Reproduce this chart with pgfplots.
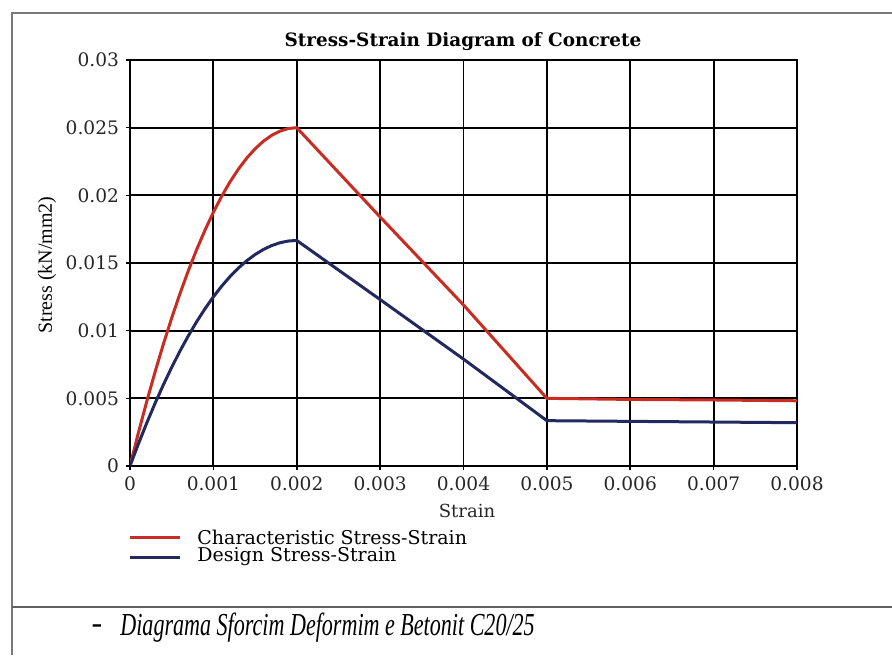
\documentclass[border=0pt]{standalone}
\usepackage{fontspec}
\setmainfont{DejaVu Serif}
\newfontfamily\timesf{Liberation Serif}
\usepackage{pgfplots}
\pgfplotsset{compat=1.18}
\definecolor{cred}{RGB}{200,45,35}
\definecolor{cnavy}{RGB}{35,40,95}
\definecolor{frameg}{RGB}{120,120,120}
\begin{document}
\begin{tikzpicture}
\useasboundingbox (0pt,0pt) rectangle (446pt,-327.5pt);
\draw[frameg, line width=1pt] (6pt,-327.5pt) -- (6pt,-6.5pt) -- (446pt,-6.5pt);
\draw[frameg!80!black, line width=1.1pt] (6pt,-303.5pt) -- (446pt,-303.5pt);
\begin{axis}[
  at={(65pt,-233pt)}, anchor=south west,
  width=333.5pt, height=203pt, scale only axis,
  xmin=0, xmax=0.008, ymin=0, ymax=0.03,
  xtick={0,0.001,...,0.008},
  ytick={0,0.005,0.01,0.015,0.02,0.025,0.03},
  scaled ticks=false,
  xticklabel style={/pgf/number format/fixed,/pgf/number format/precision=3},
  yticklabel style={/pgf/number format/fixed,/pgf/number format/precision=3},
  /pgf/number format/assume math mode=true,
  ticklabel style={font=\fontsize{9.3}{11}\selectfont, text=black!85},
  grid=major, grid style={black, line width=0.9pt},
  axis line style={black, line width=0.9pt},
  tick align=outside, major tick length=2pt, tick style={black, line width=0.8pt},
  xtick pos=bottom, ytick pos=left,
]
\addplot[cred, line width=1.5pt, line join=round] coordinates {
(0,0) (0.0001,0.0024375) (0.0002,0.00475) (0.0003,0.0069375) (0.0004,0.009)
(0.0005,0.0109375) (0.0006,0.01275) (0.0007,0.0144375) (0.0008,0.016)
(0.0009,0.0174375) (0.001,0.01875) (0.0011,0.0199375) (0.0012,0.021)
(0.0013,0.0219375) (0.0014,0.02275) (0.0015,0.0234375) (0.0016,0.024)
(0.0017,0.0244375) (0.0018,0.02475) (0.0019,0.0249375) (0.002,0.025)
(0.003,0.0184) (0.004,0.0119) (0.005,0.0050) (0.006,0.00492)
(0.007,0.00488) (0.008,0.00482)};
\addplot[cnavy, line width=1.5pt, line join=round] coordinates {
(0,0) (0.0001,0.001625) (0.0002,0.003167) (0.0003,0.004625) (0.0004,0.006)
(0.0005,0.007292) (0.0006,0.0085) (0.0007,0.009625) (0.0008,0.010667)
(0.0009,0.011625) (0.001,0.0125) (0.0011,0.013292) (0.0012,0.014)
(0.0013,0.014625) (0.0014,0.015167) (0.0015,0.015625) (0.0016,0.016)
(0.0017,0.016292) (0.0018,0.0165) (0.0019,0.016625) (0.002,0.016667)
(0.003,0.0123) (0.004,0.0079) (0.005,0.00335) (0.006,0.0033)
(0.007,0.00325) (0.008,0.0032)};
\end{axis}
\node[font=\bfseries\fontsize{9.2}{11}\selectfont] at (231.5pt,-21pt) {Stress-Strain Diagram of Concrete};
\node[font=\fontsize{9}{11}\selectfont, text=black!85] at (233.5pt,-255.5pt) {Strain};
\node[font=\timesf\fontsize{10}{12}\selectfont, rotate=90] at (23.5pt,-132.5pt) {Stress (kN/mm2)};
\draw[cred, line width=1.5pt] (65pt,-268.5pt) -- (90pt,-268.5pt);
\node[anchor=west, font=\fontsize{9.5}{11}\selectfont, inner sep=0pt] at (98.5pt,-268.5pt) {Characteristic Stress-Strain};
\draw[cnavy, line width=1.5pt] (65pt,-278.5pt) -- (90pt,-278.5pt);
\node[anchor=west, font=\fontsize{9.5}{11}\selectfont, inner sep=0pt] at (98.5pt,-278.5pt) {Design Stress-Strain};
\node[font=\timesf\fontsize{16}{18}\selectfont] at (48.5pt,-314.5pt) {-};
\node[anchor=west, inner sep=0pt] at (60pt,-314pt) {\scalebox{0.69}[1]{\timesf\itshape\fontsize{16}{18}\selectfont Diagrama Sforcim Deformim e Betonit C20/25}};
\end{tikzpicture}
\end{document}
